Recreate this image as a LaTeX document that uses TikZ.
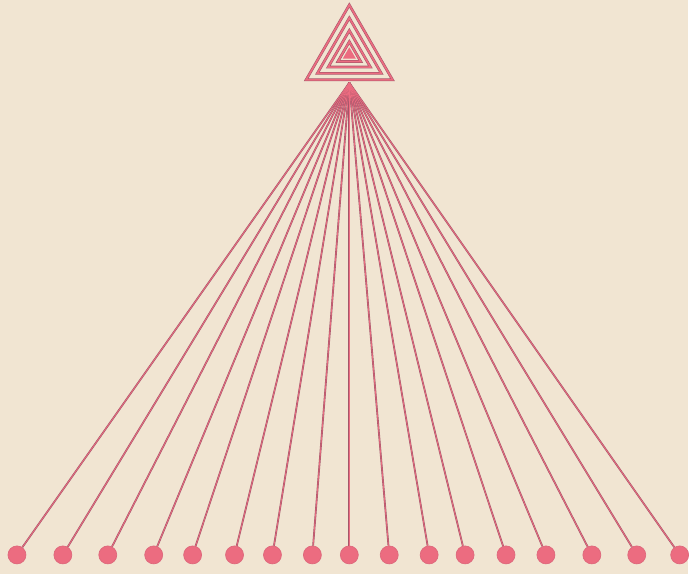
\documentclass[tikz,border=0pt]{standalone}
\definecolor{paper}{RGB}{241,229,210}
\definecolor{rose}{RGB}{236,108,128}
\definecolor{mauve}{RGB}{165,86,106}
\tikzset{
  bead/.style={circle,inner sep=0pt,minimum size=18pt,fill=rose,draw=rose!80!mauve,line width=0.7pt},
  ray/.style={draw=mauve,line width=1.8pt},
  raycore/.style={draw=rose,line width=0.7pt},
  rim/.style={draw=mauve,line width=0.55pt,double=rose,double distance=1.6pt,line join=miter}
}
\begin{document}
\begin{tikzpicture}[x=1pt,y=-1pt]
\fill[paper] (0,0) rectangle (689,575);
% nested triangles, incentre at (350,55)
\foreach \r in {25,18.5,12.2,6.6} {\draw[rim] (350,55-2*\r) -- (350+1.732*\r,55+\r) -- (350-1.732*\r,55+\r) -- cycle;}
\fill[rose] (350,55-2*3.8) -- (350+1.732*3.8,55+3.8) -- (350-1.732*3.8,55+3.8) -- cycle;
% fan of strings with beads
\coordinate (apex) at (350,83);
\foreach \x [count=\i] in {17,63,108,154,193,235,273,313,350,390,430,466,507,547,593,638,681} {
  \node[bead] (b\i) at (\x,556) {};
  \draw[ray] (apex) -- (b\i);
}
\foreach \i in {1,...,17} {\draw[raycore] (apex) -- (b\i);}
\end{tikzpicture}
\end{document}
